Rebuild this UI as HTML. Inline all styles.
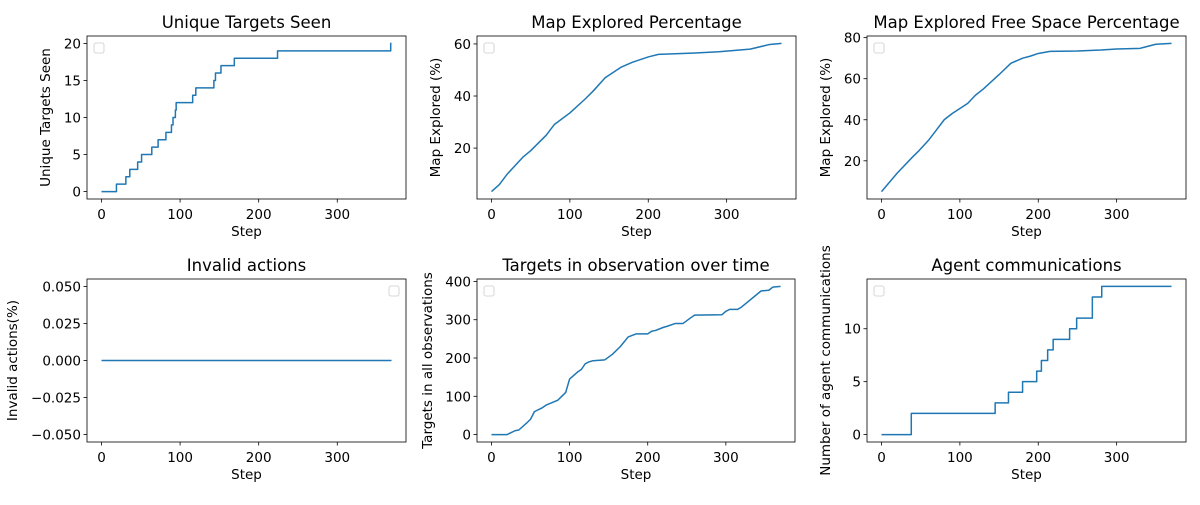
<!DOCTYPE html>
<html><head><meta charset="utf-8"><style>
body{margin:0;background:#fff;}
svg text{font-family:"DejaVu Sans","Liberation Sans",sans-serif;fill:#000;}
</style></head><body>
<svg id="fig" width="1200" height="500" xmlns="http://www.w3.org/2000/svg"></svg>
<script>
// Chart data
const uniqueSteps = [0,19,31,36,46,51,64,72,82,89,91,94,95,116,120,143,145,152,169,224,368];
const uniqueVals  = [0,1,2,3,4,5,6,7,8,9,10,11,12,13,14,15,16,17,18,19,20];
const uniqueEnd = 369;

const mapSteps = [0,10,20,40,50,70,80,100,120,130,145,165,180,200,213,260,290,330,355,370];
const mapVals  = [3.3,6,10,16.5,19,25,29,33.5,39,42,47,51,53,55,56,56.5,57,58,59.8,60.2];

const freeSteps = [0,10,20,40,48,60,70,80,90,110,120,130,150,165,180,190,200,215,250,280,300,330,350,370];
const freeVals  = [5,9.5,14,22,25,30,35,40,43,48,52,55,62,67.5,70,71,72.3,73.3,73.5,74,74.5,74.8,76.8,77.2];

const invalidSteps = [0,369];
const invalidVals  = [0,0];

const obsSteps = [0,20,25,30,35,45,50,55,65,70,85,90,95,100,110,115,120,125,130,145,155,165,175,185,200,205,210,220,225,235,245,255,260,295,300,305,315,320,345,355,360,370];
const obsVals  = [0,0,5,10,12,30,40,60,70,77,90,100,110,145,163,170,185,190,193,195,210,230,255,263,263,270,272,280,283,290,290,305,312,313,322,327,327,333,375,377,385,387];

const commSteps = [0,38,145,162,180,198,204,212,219,240,249,269,281];
const commVals  = [0,2,3,4,5,6,7,8,9,10,11,13,14];
const commEnd = 370;

const stepTicks = [0,100,200,300];

const NS='http://www.w3.org/2000/svg';
const svg=document.getElementById('fig');
function el(tag,attrs,parent){const e=document.createElementNS(NS,tag);for(const k in attrs)e.setAttribute(k,attrs[k]);(parent||svg).appendChild(e);return e;}
function txt(s,attrs,parent){const t=el('text',attrs,parent);t.textContent=s;return t;}

function plot(o){
  const g=el('g',{});
  
  
  const xs=o.x, ys=o.y;
  const xmin=Math.min(...xs), xmax=Math.max(...xs, o.end!==undefined?o.end:-Infinity);
  let ymin=Math.min(...ys), ymax=Math.max(...ys);
  let yl0,yl1;
  if(o.ylim){yl0=o.ylim[0];yl1=o.ylim[1];}else{const m=(ymax-ymin)*0.05;yl0=ymin-m;yl1=ymax+m;}
  const xm=(xmax-xmin)*0.05, xl0=xmin-xm, xl1=xmax+xm;
  const X=v=>o.l+(v-xl0)/(xl1-xl0)*(o.r-o.l);
  const Y=v=>o.b-(v-yl0)/(yl1-yl0)*(o.b-o.t);
  let d='';
  for(let i=0;i<xs.length;i++){
    if(o.step&&i>0) d+='L'+X(xs[i]).toFixed(2)+','+Y(ys[i-1]).toFixed(2);
    d+=(i?'L':'M')+X(xs[i]).toFixed(2)+','+Y(ys[i]).toFixed(2);
  }
  if(o.step&&o.end!==undefined) d+='L'+X(o.end).toFixed(2)+','+Y(ys[ys.length-1]).toFixed(2);
  const p=el('path',{d:d,fill:'none',stroke:'#1f77b4','stroke-width':1.5,'stroke-linejoin':'round'},g);
  
  
  const fr=el('rect',{x:o.l,y:o.t,width:o.r-o.l,height:o.b-o.t,fill:'none',stroke:'#000','stroke-width':0.8},g);
  
  
  stepTicks.forEach(v=>{
    const x=X(v);
    el('line',{x1:x,x2:x,y1:o.b,y2:o.b+3.5,stroke:'#000','stroke-width':0.8},g);
    const t=txt(String(v),{x:x,y:o.b+20,'font-size':13.5,'text-anchor':'middle'},g);
    
    
  });
  o.yticks.forEach((v,i)=>{
    const y=Y(v);
    el('line',{x1:o.l-3.5,x2:o.l,y1:y,y2:y,stroke:'#000','stroke-width':0.8},g);
    const t=txt(o.ylabels[i],{x:o.l-6,y:y+5,'font-size':13.5,'text-anchor':'end'},g);
    
    
  });
  const xt=txt('Step',{x:(o.l+o.r)/2,y:o.b+37,'font-size':13.5,'text-anchor':'middle'},g);
  
  
  const cy=(o.t+o.b)/2;
  const yt=txt(o.ylabel,{x:o.yx,y:cy,'font-size':13.5,'text-anchor':'middle',transform:'rotate(-90 '+o.yx+' '+cy+')'},g);
  
  
  const tt=txt(o.title,{x:(o.l+o.r)/2,y:o.t-8,'font-size':16.5,'text-anchor':'middle'},g);
  
  
  const lx=o.legendRight?o.r-17:o.l+7;
  const lg=el('rect',{x:lx,y:o.t+7,width:10,height:10,rx:2,fill:'#fff',stroke:'#ccc','stroke-width':0.8},g);
  
  
}

plot({name:'unique-targets-chart',l:87,r:406,t:36,b:199,x:uniqueSteps,y:uniqueVals,step:true,end:uniqueEnd,
  yticks:[0,5,10,15,20],ylabels:['0','5','10','15','20'],ylabel:'Unique Targets Seen',yx:50,title:'Unique Targets Seen'});
plot({name:'map-explored-chart',l:477,r:796,t:36,b:199,x:mapSteps,y:mapVals,
  yticks:[20,40,60],ylabels:['20','40','60'],ylabel:'Map Explored (%)',yx:440,title:'Map Explored Percentage'});
plot({name:'free-space-chart',l:867,r:1186,t:36,b:199,x:freeSteps,y:freeVals,
  yticks:[20,40,60,80],ylabels:['20','40','60','80'],ylabel:'Map Explored (%)',yx:830,title:'Map Explored Free Space Percentage'});
plot({name:'invalid-actions-chart',l:87,r:406,t:279,b:442,x:invalidSteps,y:invalidVals,ylim:[-0.055,0.055],legendRight:true,
  yticks:[-0.05,-0.025,0,0.025,0.05],ylabels:['\u22120.050','\u22120.025','0.000','0.025','0.050'],ylabel:'Invalid actions(%)',yx:17,title:'Invalid actions'});
plot({name:'targets-observation-chart',l:477,r:795,t:279,b:442,x:obsSteps,y:obsVals,
  yticks:[0,100,200,300,400],ylabels:['0','100','200','300','400'],ylabel:'Targets in all observations',yx:432,title:'Targets in observation over time'});
plot({name:'agent-communications-chart',l:867,r:1186,t:279,b:442,x:commSteps,y:commVals,step:true,end:commEnd,
  yticks:[0,5,10],ylabels:['0','5','10'],ylabel:'Number of agent communications',yx:830,title:'Agent communications'});
</script>
</body></html>
